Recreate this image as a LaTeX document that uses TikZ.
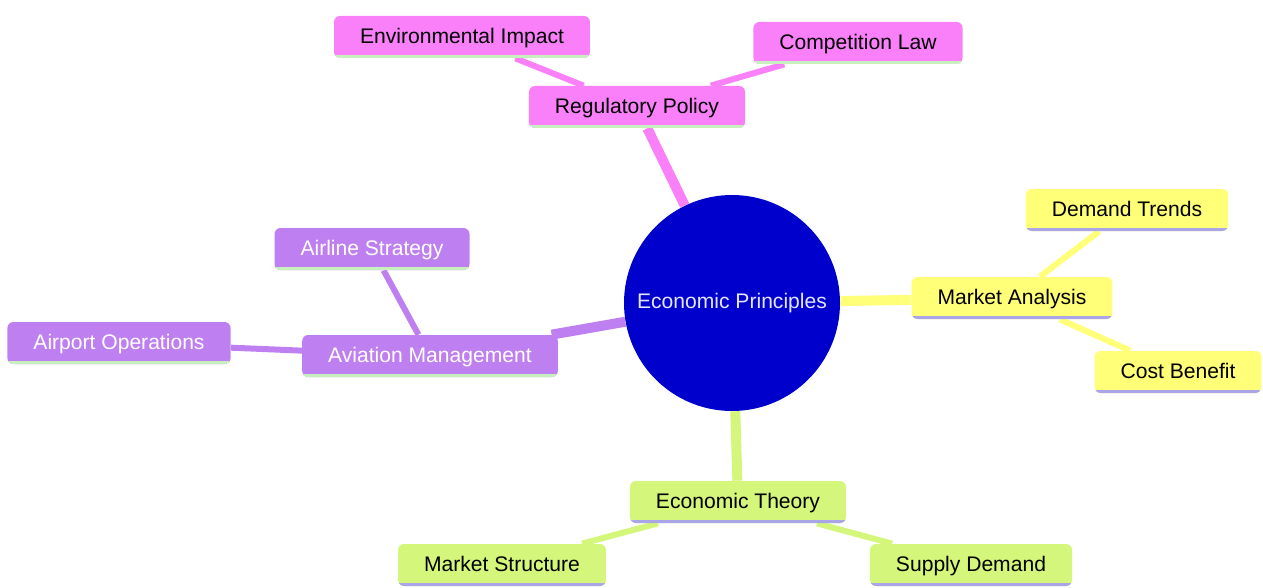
\documentclass[tikz,border=0pt]{standalone}
\usepackage{fontspec}
\setmainfont{Liberation Sans}
\usetikzlibrary{backgrounds}

\definecolor{rootblue}{RGB}{0,0,205}
\definecolor{regpink}{RGB}{250,128,250}
\definecolor{mktyellow}{RGB}{255,255,120}
\definecolor{avpurple}{RGB}{190,128,240}
\definecolor{ecogreen}{RGB}{212,246,122}
\definecolor{linegreen}{RGB}{200,240,190}
\definecolor{linelav}{RGB}{170,165,230}

\begin{document}
\begin{tikzpicture}[font=\fontsize{12}{14}\selectfont]
			\tikzset{topic/.style={shape = rectangle, rounded corners = 1.2mm, inner xsep = 0.52cm,
					minimum height = 0.84cm, text depth = 0.25ex}}
			\tikzset{uline/.style={path picture={\draw[line width = 3.2pt, #1]
						(path picture bounding box.south west) -- (path picture bounding box.south east);}}}
			\tikzset{branch/.style={line width = 0.2cm}}
			\tikzset{twig/.style={line width = 0.12cm}}
			\useasboundingbox (0, 0) rectangle (25.26, 11.74);
			%root
			\node[circle, fill = rootblue, minimum size = 4.32cm, text = blue!10] (eco) at (14.64, 5.68) {Economic Principles};
			%pink branch
			\node[topic, fill = regpink, uline = linegreen] (reg) at (12.74, 9.60) {Regulatory Policy};
			\node[topic, fill = regpink, uline = linegreen] (env) at (9.24, 11.00) {Environmental Impact};
			\node[topic, fill = regpink, uline = linegreen] (comp) at (17.16, 10.88) {Competition Law};
			%yellow branch
			\node[topic, fill = mktyellow, uline = linelav] (mkt) at (20.24, 5.78) {Market Analysis};
			\node[topic, fill = mktyellow, uline = linelav] (dem) at (22.54, 7.54) {Demand Trends};
			\node[topic, fill = mktyellow, uline = linelav] (cost) at (23.56, 4.30) {Cost Benefit};
			%purple branch
			\node[topic, fill = avpurple, uline = linegreen, text = white] (avi) at (8.60, 4.62) {Aviation Management};
			\node[topic, fill = avpurple, uline = linegreen, text = white] (airl) at (7.44, 6.76) {Airline Strategy};
			\node[topic, fill = avpurple, uline = linegreen, text = white] (airp) at (2.38, 4.88) {Airport Operations};
			%green branch
			\node[topic, fill = ecogreen, uline = linelav] (theo) at (14.76, 1.70) {Economic Theory};
			\node[topic, fill = ecogreen, uline = linelav] (mstr) at (10.04, 0.44) {Market Structure};
			\node[topic, fill = ecogreen, uline = linelav] (sup) at (19.42, 0.44) {Supply Demand};
			%edges
			\begin{scope}[on background layer]
			\path (eco) edge[branch, regpink] (reg);
			\path (reg) edge[twig, regpink] (env);
			\path (reg) edge[twig, regpink] (comp);
			\path (eco) edge[branch, mktyellow] (mkt);
			\path (mkt) edge[twig, mktyellow] (dem);
			\path (mkt) edge[twig, mktyellow] (cost);
			\path (eco) edge[branch, avpurple] (avi);
			\path (avi) edge[twig, avpurple] (airl);
			\path (avi) edge[twig, avpurple] (airp);
			\path (eco) edge[branch, ecogreen] (theo);
			\path (theo) edge[twig, ecogreen] (mstr);
			\path (theo) edge[twig, ecogreen] (sup);
			\end{scope}
			\end{tikzpicture}
\end{document}
